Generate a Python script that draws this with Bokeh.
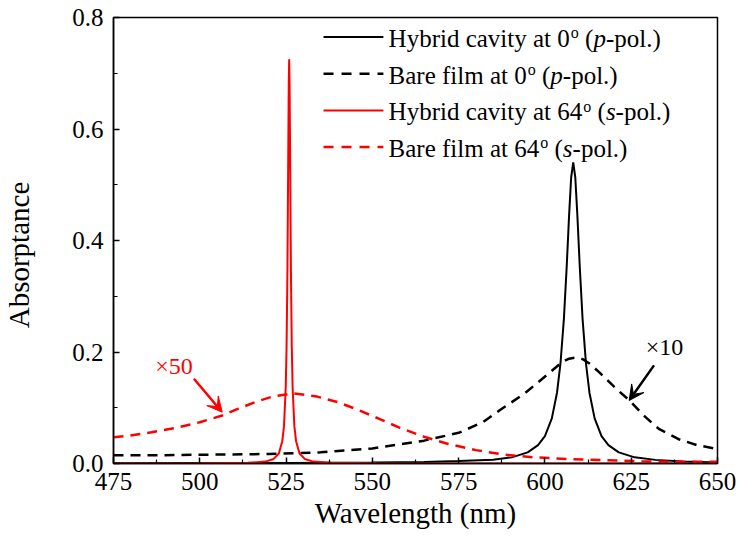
from bokeh.plotting import figure
from bokeh.models import (Range1d, FixedTicker, NumeralTickFormatter, Arrow,
                          VeeHead, ColumnDataSource)
from bokeh.core.properties import value
from bokeh.embed import file_html
from bokeh.resources import INLINE

FONT = "'Liberation Serif', 'Times New Roman', serif"

# ---- absorptance spectra -------------------------------------------------
# Hybrid cavity at 0 deg (p-pol.)
wl_hyb0 = [475, 500, 525, 550, 565, 575, 585, 590.4, 595.0, 598.0, 600.0, 602.0,
           603.5, 604.5, 605.5, 606.3, 607.0, 607.6, 608.2, 608.8, 609.4, 610.1,
           610.9, 611.9, 612.9, 614.4, 616.4, 618.4, 621.4, 626.0, 632, 640, 650]
ab_hyb0 = [0.0005, 0.0007, 0.001, 0.0017, 0.0028, 0.0045, 0.0067, 0.011, 0.020,
           0.033, 0.049, 0.081, 0.127, 0.179, 0.260, 0.352, 0.445, 0.513, 0.540,
           0.513, 0.445, 0.352, 0.260, 0.179, 0.127, 0.081, 0.049, 0.033, 0.020,
           0.011, 0.0065, 0.0036, 0.002]

# Bare film at 0 deg (p-pol.), shown x10
wl_bare0 = [475, 490, 505, 520, 535, 550, 565, 575, 582, 587, 594, 601, 605, 607,
            609, 611, 613, 616, 620.5, 624.5, 629, 633, 639, 644, 650]
ab_bare0 = [0.015, 0.015, 0.016, 0.017, 0.020, 0.027, 0.041, 0.055, 0.074, 0.096,
            0.125, 0.161, 0.182, 0.188, 0.190, 0.187, 0.179, 0.162, 0.135, 0.113,
            0.084, 0.062, 0.043, 0.033, 0.026]

# Hybrid cavity at 64 deg (s-pol.)
wl_hyb64 = [475, 500, 514, 519, 521.4, 522.9, 523.9, 524.4, 524.9, 525.15, 525.4,
            525.65, 525.78, 525.9, 526.02, 526.15, 526.4, 526.65, 526.9, 527.4,
            527.9, 528.9, 530.4, 532.9, 538, 551, 575, 600, 625, 650]
ab_hyb64 = [0.0002, 0.0004, 0.0012, 0.0034, 0.0082, 0.018, 0.040, 0.067, 0.136,
            0.211, 0.348, 0.570, 0.682, 0.725, 0.682, 0.570, 0.348, 0.211, 0.136,
            0.067, 0.040, 0.018, 0.0082, 0.0034, 0.0012, 0.0003, 0.0001, 0.0001,
            0.0001, 0.0001]

# Bare film at 64 deg (s-pol.), shown x50
wl_bare64 = [475, 479.5, 486, 493, 500, 506.5, 511, 516, 521, 527, 534, 540, 546,
             552, 558, 565, 572, 580, 588, 597, 607, 617, 628, 640, 650]
ab_bare64 = [0.047, 0.050, 0.056, 0.064, 0.074, 0.086, 0.098, 0.110, 0.120, 0.126,
             0.120, 0.110, 0.096, 0.080, 0.064, 0.048, 0.035, 0.024, 0.016, 0.011,
             0.008, 0.006, 0.004, 0.003, 0.003]

x_ticks = [475, 500, 525, 550, 575, 600, 625, 650]
x_minor = [487.5, 512.5, 537.5, 562.5, 587.5, 612.5, 637.5]
y_ticks = [0.0, 0.2, 0.4, 0.6, 0.8]
y_minor = [0.1, 0.3, 0.5, 0.7]

# ---- figure ---------------------------------------------------------------
p = figure(width=737, height=547, output_backend="svg", toolbar_location=None,
           x_range=Range1d(475, 650), y_range=Range1d(0, 0.8),
           min_border_left=111, min_border_right=20, min_border_top=17,
           min_border_bottom=84)
p.background_fill_color = "white"
p.border_fill_color = "white"
p.outline_line_color = "black"
p.outline_line_width = 1.5
p.xgrid.grid_line_color = None
p.ygrid.grid_line_color = None

p.xaxis.ticker = FixedTicker(ticks=x_ticks, minor_ticks=x_minor)
p.yaxis.ticker = FixedTicker(ticks=y_ticks, minor_ticks=y_minor)
p.yaxis.formatter = NumeralTickFormatter(format="0.0")
for ax in (p.xaxis, p.yaxis):
    ax.axis_line_color = "black"
    ax.axis_line_width = 1.5
    ax.major_tick_line_color = "black"
    ax.minor_tick_line_color = "black"
    ax.major_tick_line_width = 1.5
    ax.minor_tick_line_width = 1.2
    ax.major_tick_in = 6
    ax.major_tick_out = 0
    ax.minor_tick_in = 4
    ax.minor_tick_out = 0
    ax.major_label_text_font = FONT
    ax.major_label_text_font_size = "25px"
    ax.major_label_text_color = "black"
    ax.axis_label_text_font = FONT
    ax.axis_label_text_font_size = "29px"
    ax.axis_label_text_font_style = "normal"
    ax.axis_label_text_color = "black"
p.xaxis.axis_label = "Wavelength (nm)"
# trailing no-break spaces push the rotated title slightly below centre
p.yaxis.axis_label = "Absorptance\u00a0\u00a0\u00a0\u00a0"
p.xaxis.major_label_standoff = 9
p.yaxis.major_label_standoff = 10
p.xaxis.axis_label_standoff = 4
p.yaxis.axis_label_standoff = 34

# ---- curves ---------------------------------------------------------------
p.line(wl_hyb0, ab_hyb0, line_color="black", line_width=2)
p.line(wl_bare0, ab_bare0, line_color="black", line_width=2.5, line_dash="10 7")
p.line(wl_hyb64, ab_hyb64, line_color="red", line_width=2)
p.line(wl_bare64, ab_bare64, line_color="red", line_width=2.5, line_dash="10 7")

# ---- scale-factor annotations ------------------------------------------------
LIFT = -7  # pixel correction for the alphabetic baseline in the svg output
p.text(x=[487.1], y=[0.1615], text=["\u00d750"], text_color="red", y_offset=LIFT,
       text_font=value(FONT), text_font_size="24px", text_baseline="alphabetic")
p.add_layout(Arrow(end=VeeHead(size=15, fill_color="red", line_color="red"),
                   x_start=498.3, y_start=0.152, x_end=506.5, y_end=0.092,
                   line_color="red", line_width=2.5))
p.text(x=[629.2], y=[0.197], text=["\u00d710"], text_color="black", y_offset=LIFT,
       text_font=value(FONT), text_font_size="24px", text_baseline="alphabetic")
p.add_layout(Arrow(end=VeeHead(size=15, fill_color="black", line_color="black"),
                   x_start=631.6, y_start=0.176, x_end=624.4, y_end=0.113,
                   line_color="black", line_width=2.5))

# ---- legend (drawn piecewise for superscript and italic parts) -------------
TIMES = {' ': 250, '(': 333, ')': 333, '-': 333, '.': 250, '0': 500, '1': 500,
         '2': 500, '3': 500, '4': 500, '5': 500, '6': 500, '7': 500, '8': 500,
         '9': 500, 'A': 722, 'B': 667, 'H': 722, 'a': 444, 'b': 500, 'c': 444,
         'd': 500, 'e': 444, 'f': 333, 'i': 278, 'l': 278, 'm': 778, 'n': 500,
         'o': 500, 'p': 500, 'r': 333, 's': 389, 't': 278, 'v': 500, 'y': 500}


def tw(s, size):
    return sum(TIMES.get(c, 500) for c in s) * size / 1000.0


legend_rows = [
    ("Hybrid cavity at 0", "p", "black", None),
    ("Bare film at 0", "p", "black", "10 8"),
    ("Hybrid cavity at 64", "s", "red", None),
    ("Bare film at 64", "s", "red", "10 8"),
]
row_y = [0.7648, 0.6991, 0.6333, 0.5675]
sample_x0, sample_x1, text_x = 535.85, 553.2, 554.7
MAIN, SUP = 25, 16
BASE, SUPBASE = 8.3 + LIFT, 2.6 + LIFT

pieces = dict(x=[], y=[], text=[], xo=[], yo=[], size=[], style=[])


def add_piece(y, t, xo, yo, size, style):
    pieces["x"].append(text_x)
    pieces["y"].append(y)
    pieces["text"].append(t)
    pieces["xo"].append(xo)
    pieces["yo"].append(yo)
    pieces["size"].append(f"{size}px")
    pieces["style"].append(style)


for (prefix, pol, color, dash), y in zip(legend_rows, row_y):
    p.line([sample_x0, sample_x1], [y, y], line_color=color,
           line_width=2.5 if dash else 2, line_dash=dash if dash else "solid")
    off = 0.0
    add_piece(y, prefix, off, BASE, MAIN, "normal")
    off += tw(prefix, MAIN) + 1
    add_piece(y, "o", off, SUPBASE, SUP, "normal")
    off += tw("o", SUP) + tw(" ", MAIN)
    add_piece(y, "(", off, BASE, MAIN, "normal")
    off += tw("(", MAIN)
    add_piece(y, pol, off, BASE, MAIN, "italic")
    off += tw(pol, MAIN)
    add_piece(y, "-pol.)", off, BASE, MAIN, "normal")

src = ColumnDataSource(pieces)
p.text(x="x", y="y", text="text", x_offset="xo", y_offset="yo",
       text_font_size="size", text_font_style="style", source=src,
       text_font=value(FONT), text_color="black", text_baseline="alphabetic")

open("out.html", "w").write(file_html(p, INLINE))
